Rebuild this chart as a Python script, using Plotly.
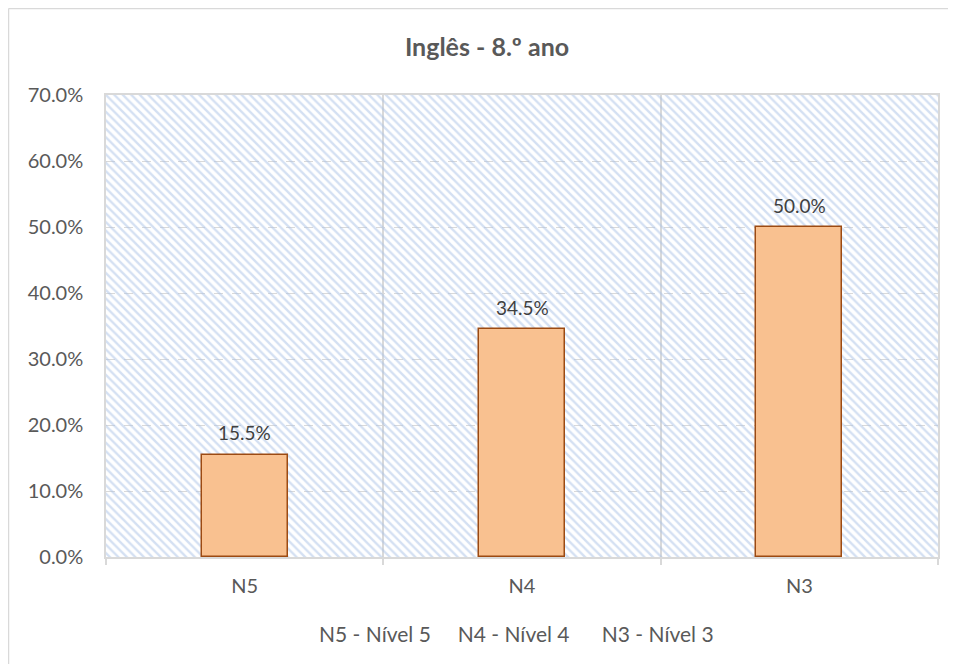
import plotly.graph_objects as go

categories = ["N5", "N4", "N3"]
values = [15.5, 34.5, 50.0]
y_ticks = [0, 10, 20, 30, 40, 50, 60, 70]
title_text = "Inglês - 8.º ano"
legend_items = ["N5 - Nível 5", "N4 - Nível 4", "N3 - Nível 3"]

FONT = "Lato, 'Open Sans', sans-serif"
GRAY = "#595959"
GRID = "#d9d9d9"

# page offset of the plotly div (body margin)
OFF = 8
L, T, PW, PH = 106 - OFF, 95 - OFF, 832, 462
W, H = 956, 664

xpos = list(range(len(categories)))
fig = go.Figure()

# hatched plot-area background
fig.add_trace(go.Bar(
    x=[(len(categories) - 1) / 2], y=[max(y_ticks)], width=[len(categories)],
    marker=dict(color="rgba(255,255,255,0)", line=dict(width=0),
                pattern=dict(shape="\\", fgcolor="#a9c1e6", bgcolor="rgba(255,255,255,0)",
                             size=6, solidity=0.4, fillmode="overlay")),
    hoverinfo="skip", showlegend=False,
))

fig.add_trace(go.Bar(
    x=xpos, y=values, width=0.31,
    marker=dict(color="#f9c190", line=dict(color="#9c4a12", width=1.5)),
    showlegend=False,
))

for xi, v in zip(xpos, values):
    fig.add_annotation(x=xi, y=v, text=f"{v:.1f}%", showarrow=False,
                       yshift=22, font=dict(family=FONT, size=19, color="#404040"))

legend_text = (legend_items[0] + "&nbsp;" * 5 + legend_items[1] + "&nbsp;" * 6 + legend_items[2])
fig.add_annotation(x=(516 - OFF - L) / PW, y=-(633 - OFF - (T + PH)) / PH, xref="paper", yref="paper",
                   text=legend_text, showarrow=False, yanchor="middle",
                   font=dict(family=FONT, size=21, color=GRAY))

# outer chart border (top and left visible)
ytop = 1 + (T - 0.5) / PH
xleft = -(L - 0.5) / PW
fig.add_shape(type="line", xref="paper", yref="paper", x0=xleft, x1=1.2,
              y0=ytop, y1=ytop, line=dict(color=GRID, width=1.5))
fig.add_shape(type="line", xref="paper", yref="paper", x0=xleft, x1=xleft,
              y0=-0.4, y1=ytop, line=dict(color=GRID, width=1.5))

fig.update_layout(
    width=W, height=H,
    margin=dict(l=L, r=W - L - PW, t=T, b=H - T - PH),
    paper_bgcolor="white", plot_bgcolor="white",
    barmode="overlay", bargap=0,
    title=dict(text=f"<b>{title_text}</b>", x=(487 - OFF - L) / PW, xanchor="center",
               y=1 - (47 - OFF) / H, yanchor="middle", xref="paper",
               font=dict(family=FONT, size=25, color=GRAY)),
    font=dict(family=FONT, size=19, color=GRAY),
    xaxis=dict(range=[-0.5, len(categories) - 0.5], tickvals=xpos, ticktext=categories,
               showgrid=False, zeroline=False, ticks="", showline=True, mirror=True,
               linecolor=GRID, linewidth=1.5, ticklabelstandoff=10,
               tickfont=dict(family=FONT, size=20, color=GRAY),
               minor=dict(tickvals=[i - 0.5 for i in range(len(categories) + 1)], showgrid=True,
                          gridcolor=GRID, gridwidth=1.5, ticks="outside", ticklen=6,
                          tickcolor=GRID, tickwidth=1.5)),
    yaxis=dict(range=[0, max(y_ticks)], tickvals=y_ticks, ticktext=[f"{t:.1f}%" for t in y_ticks],
               showgrid=True, gridcolor=GRID, griddash="dash", gridwidth=1.2,
               zeroline=False, showline=True, mirror=True, linecolor=GRID, linewidth=1.5,
               ticks="", ticklen=0, ticklabelstandoff=17,
               tickfont=dict(family=FONT, size=20, color=GRAY)),
)

fig.write_html("out.html")
